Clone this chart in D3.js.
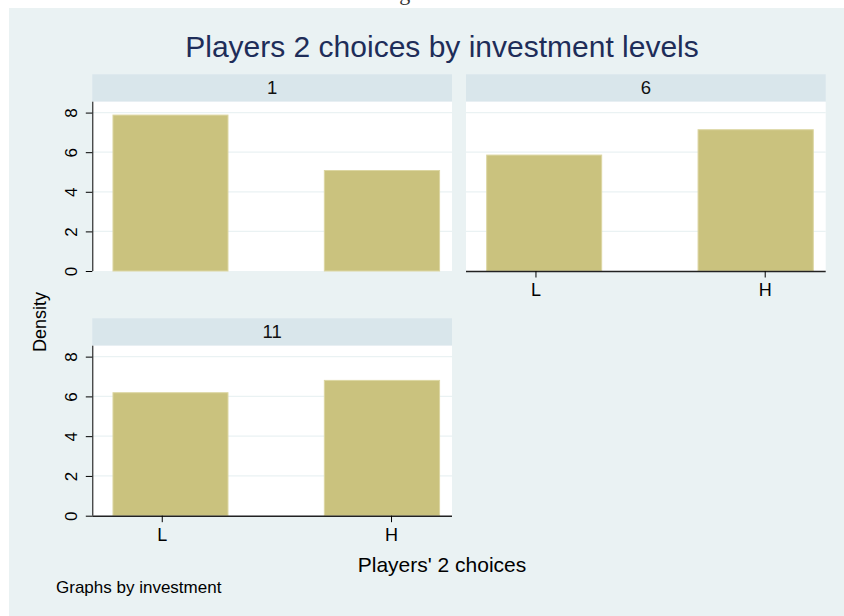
<!DOCTYPE html>
<html><head><meta charset="utf-8">
<script src="https://cdn.jsdelivr.net/npm/d3@7"></script>
<style>
html,body{margin:0;padding:0;background:#fff;}
svg{display:block;}
text{font-family:"Liberation Sans",Arial,Helvetica,sans-serif;}
</style></head>
<body>
<svg id="chart" width="844" height="616"></svg>
<script>
// ---- data ----
const panelLabels = ["1", "6", "11"];
const categories = ["L", "H"];
const categoryValues = [0, 1];
const binStart = [-0.215, 0.707];
const binEnd = [0.291, 1.214];
const density1 = [7.9, 5.1];
const density6 = [5.88, 7.16];
const density11 = [6.21, 6.83];
const yTicks = [0, 2, 4, 6, 8];
const titleText = "Players 2 choices by investment levels";
const xTitle = "Players' 2 choices";
const yTitle = "Density";
const noteText = "Graphs by investment";
const captionText = "Figure 3";

const seriesByPanel = [density1, density6, density11];

const svg = d3.select("#chart");
// caption of the page above the chart, mostly cut off by the top edge
svg.append("text").attr("x", 418).attr("y", 0).attr("text-anchor", "middle")
  .style("font-family", "'Liberation Serif','DejaVu Serif',serif").style("font-size", "22px")
  .attr("fill", "#333").text(captionText);

const bg = "#EAF2F3";
svg.append("rect").attr("x", 9).attr("y", 8).attr("width", 835).attr("height", 608).attr("fill", bg);

svg.append("text").attr("x", 442).attr("y", 57).attr("text-anchor", "middle")
  .style("font-size", "30px").attr("fill", "#1E2D59").text(titleText);

const cols = [[92.3, 452], [466, 825.7]];
const rows = [{strip: 74.3, top: 101.7, bottom: 271}, {strip: 318.3, top: 345.7, bottom: 515.7}];
const layout = [
  {col: 0, row: 0, yAxis: true, xAxis: false},
  {col: 1, row: 0, yAxis: false, xAxis: true},
  {col: 0, row: 1, yAxis: true, xAxis: true}
];

layout.forEach((p, i) => {
  const [x0, x1] = cols[p.col];
  const r = rows[p.row];
  const x = d3.scaleLinear().domain([-0.303, 1.266]).range([x0, x1]);
  const y = d3.scaleLinear().domain([0, 8.55]).range([r.bottom, r.top]);
  const g = svg.append("g");
  // strip
  g.append("rect").attr("x", x0).attr("y", r.strip).attr("width", x1 - x0).attr("height", r.top - r.strip).attr("fill", "#D9E6EB");
  g.append("text").attr("x", (x0 + x1) / 2).attr("y", r.strip + 20).attr("text-anchor", "middle")
    .style("font-size", "18.5px").attr("fill", "#111").text(panelLabels[i]);
  // plot area
  g.append("rect").attr("x", x0).attr("y", r.top).attr("width", x1 - x0).attr("height", r.bottom - r.top).attr("fill", "#fff");
  // gridlines
  g.selectAll("line.grid").data(yTicks.filter(t => t > 0)).enter().append("line")
    .attr("x1", x0).attr("x2", x1).attr("y1", d => y(d)).attr("y2", d => y(d))
    .attr("stroke", bg).attr("stroke-width", 1.2);
  // bars
  const vals = seriesByPanel[i];
  g.selectAll("rect.bar").data(vals).enter().append("rect")
    .attr("x", (d, k) => x(binStart[k]) + 0.5).attr("width", (d, k) => x(binEnd[k]) - x(binStart[k]) - 1)
    .attr("y", d => y(d) + 0.5).attr("height", d => y(0) - y(d) - 0.5)
    .attr("fill", "#CAC27E").attr("stroke", "#DCD6A2").attr("stroke-width", 1);
  // y axis
  if (p.yAxis) {
    const ya = g.append("g").attr("transform", `translate(${x0},0)`)
      .call(d3.axisLeft(y).tickValues(yTicks).tickSize(6.5).tickSizeOuter(0).tickPadding(0));
    ya.select(".domain").attr("stroke", "#000").attr("d", `M0.5,${r.top}V${r.bottom}`);
    ya.selectAll(".tick line").attr("stroke", "#000");
    ya.selectAll(".tick text").attr("x", 0).attr("dy", 0).attr("text-anchor", "middle")
      .attr("transform", "translate(-15,0) rotate(-90)")
      .style("font-size", "17px").style("font-family", "'Liberation Sans',Arial,sans-serif").attr("fill", "#000");
  }
  // x axis
  if (p.xAxis) {
    const xa = g.append("g").attr("transform", `translate(0,${r.bottom})`)
      .call(d3.axisBottom(x).tickValues(categoryValues).tickFormat((d, k) => categories[k]).tickSize(6.5).tickSizeOuter(0).tickPadding(6));
    xa.select(".domain").attr("stroke", "#222").attr("stroke-width", 1.4).attr("d", `M${x0},0.5H${x1}`);
    xa.selectAll(".tick line").attr("stroke", "#000");
    xa.selectAll(".tick text").style("font-size", "18px").style("font-family", "'Liberation Sans',Arial,sans-serif").attr("fill", "#000");
  }
});

svg.append("text").attr("transform", "translate(46,322) rotate(-90)").attr("text-anchor", "middle")
  .style("font-size", "18px").attr("fill", "#000").text(yTitle);
svg.append("text").attr("x", 442).attr("y", 572).attr("text-anchor", "middle")
  .style("font-size", "21px").attr("fill", "#000").text(xTitle);
svg.append("text").attr("x", 56).attr("y", 593)
  .style("font-size", "17px").attr("fill", "#000").text(noteText);
</script>
</body></html>
